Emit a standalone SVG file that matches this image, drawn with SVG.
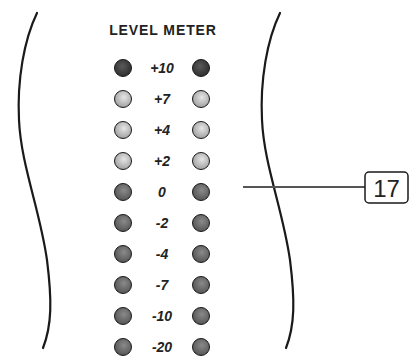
<svg xmlns="http://www.w3.org/2000/svg" width="419" height="356" viewBox="0 0 419 356">
<style>
.edge{fill:none;stroke:#1a1a1a;stroke-width:2.2;stroke-linecap:round}
.lead{fill:none;stroke:#555;stroke-width:2}
.lbl{font-family:"Liberation Sans",Arial,sans-serif;font-weight:bold;font-style:italic;font-size:14px;fill:#222;text-anchor:middle}
.title{font-family:"Liberation Sans",Arial,sans-serif;font-weight:bold;font-size:14px;fill:#222;text-anchor:middle;letter-spacing:0.9px}
.led{stroke:#1a1a1a;stroke-width:1}
.dark{fill:url(#gDark)}
.light{fill:url(#gLight)}
.mid{fill:url(#gMid)}
.tag{fill:#fff;stroke:#1a1a1a;stroke-width:1.5}
.num{font-family:"Liberation Sans",Arial,sans-serif;font-size:24px;fill:#222;text-anchor:middle}
</style>
<defs>
<radialGradient id="gDark" cx="0.45" cy="0.4" r="0.6">
<stop offset="0" stop-color="#5a5a5a"/><stop offset="1" stop-color="#2e2e2e"/>
</radialGradient>
<radialGradient id="gLight" cx="0.55" cy="0.4" r="0.6">
<stop offset="0" stop-color="#e6e6e6"/><stop offset="1" stop-color="#a0a0a0"/>
</radialGradient>
<radialGradient id="gMid" cx="0.55" cy="0.4" r="0.6">
<stop offset="0" stop-color="#8a8a8a"/><stop offset="1" stop-color="#555"/>
</radialGradient>
</defs>
<g id="outline">
<path class="edge" d="M37,13 C24,40 17,80 19,120 C21,165 40,210 47,260 C52,300 52,325 43,348"/>
<path class="edge" d="M280,13 C267,40 260,80 262,120 C264,165 283,210 290,260 C295,300 295,325 286,348"/>
</g>
<text id="title" class="title" x="163" y="35">LEVEL METER</text>
<g id="row-p10"><circle class="led dark" cx="123" cy="68" r="8.5"/><text class="lbl" x="162" y="73">+10</text><circle class="led dark" cx="201" cy="68" r="8.5"/></g>
<g id="row-p7"><circle class="led light" cx="123" cy="99" r="8.5"/><text class="lbl" x="162" y="104">+7</text><circle class="led light" cx="201" cy="99" r="8.5"/></g>
<g id="row-p4"><circle class="led light" cx="123" cy="130" r="8.5"/><text class="lbl" x="162" y="135">+4</text><circle class="led light" cx="201" cy="130" r="8.5"/></g>
<g id="row-p2"><circle class="led light" cx="123" cy="161" r="8.5"/><text class="lbl" x="162" y="166">+2</text><circle class="led light" cx="201" cy="161" r="8.5"/></g>
<g id="row-0"><circle class="led mid" cx="123" cy="192" r="8.5"/><text class="lbl" x="162" y="197">0</text><circle class="led mid" cx="201" cy="192" r="8.5"/></g>
<g id="row-m2"><circle class="led mid" cx="123" cy="223" r="8.5"/><text class="lbl" x="162" y="228">-2</text><circle class="led mid" cx="201" cy="223" r="8.5"/></g>
<g id="row-m4"><circle class="led mid" cx="123" cy="254" r="8.5"/><text class="lbl" x="162" y="259">-4</text><circle class="led mid" cx="201" cy="254" r="8.5"/></g>
<g id="row-m7"><circle class="led mid" cx="123" cy="285" r="8.5"/><text class="lbl" x="162" y="290">-7</text><circle class="led mid" cx="201" cy="285" r="8.5"/></g>
<g id="row-m10"><circle class="led mid" cx="123" cy="316" r="8.5"/><text class="lbl" x="162" y="321">-10</text><circle class="led mid" cx="201" cy="316" r="8.5"/></g>
<g id="row-m20"><circle class="led mid" cx="123" cy="347" r="8.5"/><text class="lbl" x="162" y="352">-20</text><circle class="led mid" cx="201" cy="347" r="8.5"/></g>
<g id="connectors">
<line class="lead" x1="243" y1="187" x2="365" y2="187"/>
</g>
<g id="callout-17">
<rect class="tag" x="365" y="172" width="43" height="31" rx="4"/>
<text class="num" x="386.5" y="196.5">17</text>
</g>
</svg>
